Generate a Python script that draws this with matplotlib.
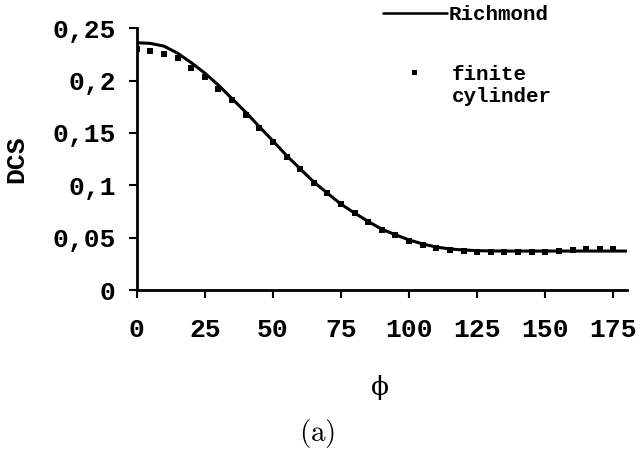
import matplotlib
matplotlib.use("Agg")
import matplotlib.pyplot as plt
from matplotlib.lines import Line2D

# ---- data ----
phi_line = [0, 5, 10, 15, 20, 25, 30, 35, 40, 45, 50, 55, 60, 65, 70, 75, 80, 85, 90,
            95, 100, 105, 110, 115, 120, 125, 130, 135, 140, 145, 150, 155, 160, 165,
            170, 175, 180]
richmond = [0.2362, 0.2356, 0.2330, 0.2262, 0.2172, 0.2072, 0.1957, 0.1828, 0.1700,
            0.1560, 0.1425, 0.1285, 0.1158, 0.1032, 0.0925, 0.0820, 0.0735, 0.0655,
            0.0580, 0.0528, 0.0478, 0.0440, 0.0410, 0.0392, 0.0382, 0.0376, 0.0373,
            0.0372, 0.0372, 0.0372, 0.0372, 0.0372, 0.0372, 0.0372, 0.0372, 0.0372,
            0.0372]

phi_pts = [0, 5, 10, 15, 20, 25, 30, 35, 40, 45, 50, 55, 60, 65, 70, 75, 80, 85,
           90, 95, 100, 105, 110, 115, 120, 125, 130, 135, 140, 145, 150, 155, 160,
           165, 170, 175]
finite = [0.2300, 0.2286, 0.2252, 0.2214, 0.2118, 0.2038, 0.1917, 0.1815, 0.1672,
          0.1545, 0.1417, 0.1274, 0.1153, 0.1025, 0.0924, 0.0817, 0.0733, 0.0653,
          0.0573, 0.0525, 0.0471, 0.0430, 0.0398, 0.0382, 0.0375, 0.0362, 0.0360,
          0.0360, 0.0360, 0.0362, 0.0365, 0.0375, 0.0385, 0.0388, 0.0388, 0.0388]

x_ticks = [0, 25, 50, 75, 100, 125, 150, 175]
x_tick_labels = ["0", "25", "50", "75", "100", "125", "150", "175"]
y_ticks = [0, 0.05, 0.10, 0.15, 0.20, 0.25]
y_tick_labels = ["0", "0,05", "0,1", "0,15", "0,2", "0,25"]

series_labels = ["Richmond", "finite", "cylinder"]

# ---- figure ----
plt.rcParams["mathtext.fontset"] = "cm"
W, H = 640, 461
fig = plt.figure(figsize=(6.4, 4.61), dpi=100)
x0, x1, y0, y1 = 136.7, 627.0, 28.3, 290.0
ax = fig.add_axes([x0 / W, 1 - y1 / H, (x1 - x0) / W, (y1 - y0) / H])

ax.plot(phi_line, richmond, color="black", lw=2.2, solid_capstyle="butt", zorder=3)
ax.plot(phi_pts, finite, "s", color="black", ms=5.0, mew=0, zorder=4)

ax.set_xlim(0, 180)
ax.set_ylim(0, 0.25)
for s in ("top", "right"):
    ax.spines[s].set_visible(False)
for s in ("left", "bottom"):
    ax.spines[s].set_linewidth(2.0)

mono = dict(family="Liberation Mono", weight="bold")
ax.set_xticks(x_ticks)
ax.set_xticklabels(x_tick_labels, fontsize=19, **mono)
ax.set_yticks(y_ticks)
ax.set_yticklabels(y_tick_labels, fontsize=19, **mono)
ax.tick_params(axis="both", direction="out", length=6, width=1.5)
ax.tick_params(axis="y", pad=9)
ax.tick_params(axis="x", pad=14)

ax.set_ylabel("DCS", fontsize=19, va="center", **mono)
ax.yaxis.set_label_coords((16.7 - x0) / (x1 - x0), 0.5)
ax.set_xlabel("\u03d5", fontsize=19, va="center", family="DejaVu Serif")
ax.xaxis.set_label_coords((380 - x0) / (x1 - x0), (y1 - 387) / (y1 - y0))

# ---- legend (drawn in figure coordinates) ----
fig.add_artist(Line2D([382 / W, 448 / W], [1 - 13 / H, 1 - 13 / H],
                      color="black", lw=1.8, solid_capstyle="butt"))
fig.text(449 / W, 1 - 20 / H, series_labels[0], fontsize=15, va="baseline", **mono)
fig.add_artist(Line2D([414.3 / W], [1 - 71.7 / H], marker="s", color="black",
                      ms=3.6, mew=0, linestyle="none"))
fig.text(451.7 / W, 1 - 80 / H, series_labels[1], fontsize=15, va="baseline", **mono)
fig.text(451.7 / W, 1 - 101.7 / H, series_labels[2], fontsize=15, va="baseline", **mono)

fig.text(317 / W, 1 - 433 / H, r"$\mathrm{(a)}$", fontsize=21, ha="center", va="center")

fig.savefig("out.png", dpi=100, facecolor="white")
